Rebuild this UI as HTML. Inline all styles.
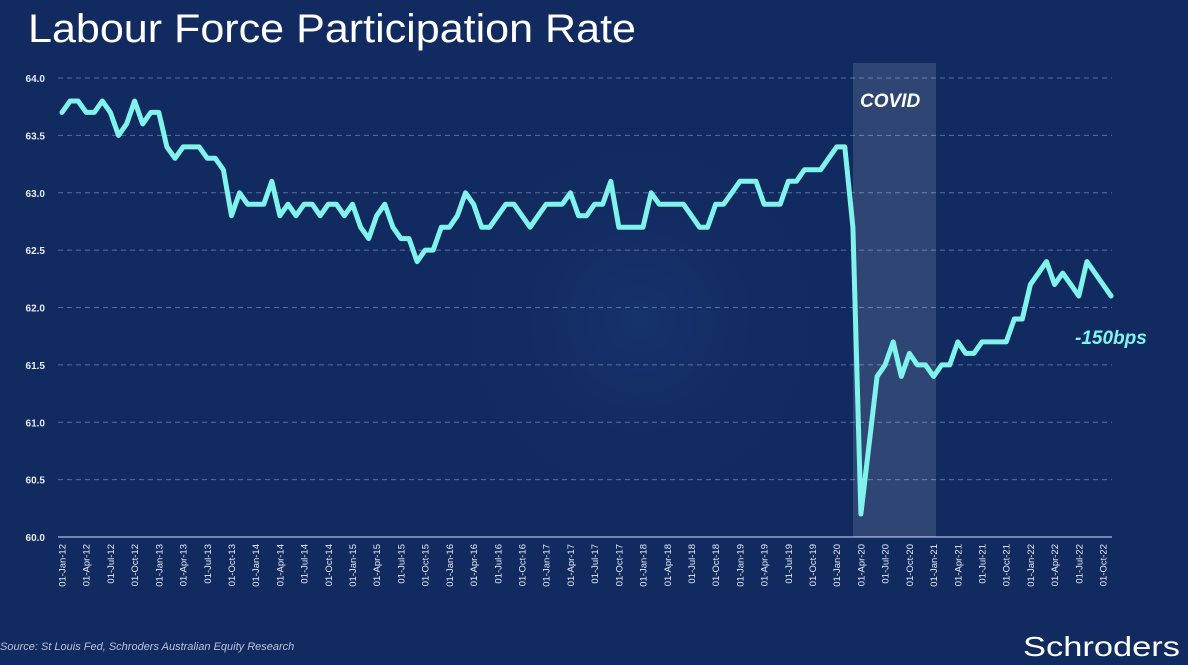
<!DOCTYPE html>
<html><head><meta charset="utf-8"><style>
html,body{margin:0;padding:0;background:#112a5f;}
svg{display:block;font-family:"Liberation Sans",sans-serif;}
</style></head><body>
<svg id="chart" width="1188" height="665" viewBox="0 0 1188 665" xmlns="http://www.w3.org/2000/svg">
<defs><radialGradient id="wm" cx="0.5" cy="0.5" r="0.5"><stop offset="0" stop-color="#1c3a78" stop-opacity="0.55"/><stop offset="1" stop-color="#112a5f" stop-opacity="0"/></radialGradient></defs>
<rect x="0" y="0" width="1188" height="665" fill="#112a5f"/>
<circle cx="640" cy="320" r="230" fill="url(#wm)"/>
<text x="28" y="42" fill="#ffffff" font-size="40" textLength="608" lengthAdjust="spacingAndGlyphs">Labour Force Participation Rate</text>
<g id="grid"></g>
<rect id="covid-band" x="853" y="63" width="83" height="474" fill="#ffffff" fill-opacity="0.13"/>
<text x="860" y="107" fill="#ffffff" font-size="19" font-weight="bold" font-style="italic">COVID</text>
<g id="yticks"></g>
<g id="xticks"></g>
<path id="series" fill="none" stroke="#7ff3ec" stroke-width="5" stroke-linejoin="round" stroke-linecap="round"/>
<text x="1075" y="344" fill="#7ff3ec" font-size="19" font-weight="bold" font-style="italic">-150bps</text>
<text x="0" y="650" fill="#b8c3dc" font-size="11" font-style="italic">Source: St Louis Fed, Schroders Australian Equity Research</text>
<text x="1023" y="656" fill="#ffffff" font-size="28" textLength="157" lengthAdjust="spacingAndGlyphs">Schroders</text>
</svg>
<script>
const values = [63.7,63.8,63.8,63.7,63.7,63.8,63.7,63.5,63.6,63.8,63.6,63.7,
63.7,63.4,63.3,63.4,63.4,63.4,63.3,63.3,63.2,62.8,63.0,62.9,
62.9,62.9,63.1,62.8,62.9,62.8,62.9,62.9,62.8,62.9,62.9,62.8,
62.9,62.7,62.6,62.8,62.9,62.7,62.6,62.6,62.4,62.5,62.5,62.7,
62.7,62.8,63.0,62.9,62.7,62.7,62.8,62.9,62.9,62.8,62.7,62.8,
62.9,62.9,62.9,63.0,62.8,62.8,62.9,62.9,63.1,62.7,62.7,62.7,
62.7,63.0,62.9,62.9,62.9,62.9,62.8,62.7,62.7,62.9,62.9,63.0,
63.1,63.1,63.1,62.9,62.9,62.9,63.1,63.1,63.2,63.2,63.2,63.3,
63.4,63.4,62.7,60.2,60.8,61.4,61.5,61.7,61.4,61.6,61.5,61.5,
61.4,61.5,61.5,61.7,61.6,61.6,61.7,61.7,61.7,61.7,61.9,61.9,
62.2,62.3,62.4,62.2,62.3,62.2,62.1,62.4,62.3,62.2,62.1];
const yTicks = [60.0,60.5,61.0,61.5,62.0,62.5,63.0,63.5,64.0];
const monthNames = ["Jan","Apr","Jul","Oct"];
const startYear = 12, endYear = 22;

const NS = "http://www.w3.org/2000/svg";
const x0 = 62, dx = 8.07, yBase = 537, yPer = 114.75;
function xs(i){ return x0 + dx*i; }
function ys(v){ return yBase - (v-60)*yPer; }

const grid = document.getElementById('grid');
const yt = document.getElementById('yticks');
yTicks.forEach(v=>{
  const l = document.createElementNS(NS,'line');
  l.setAttribute('x1',58); l.setAttribute('x2',1112);
  l.setAttribute('y1',ys(v)); l.setAttribute('y2',ys(v));
  l.setAttribute('stroke', v===60 ? '#8fa3cf' : '#5a6f9e');
  l.setAttribute('stroke-width', v===60 ? 1.5 : 1);
  if(v!==60) l.setAttribute('stroke-dasharray','5 4');
  
  
  grid.appendChild(l);
  const t = document.createElementNS(NS,'text');
  t.setAttribute('x',45); t.setAttribute('y',ys(v)+4);
  t.setAttribute('text-anchor','end'); t.setAttribute('fill','#e6ebf5');
  t.setAttribute('font-size','10'); t.setAttribute('font-weight','bold');
  t.textContent = v.toFixed(1);
  
  
  yt.appendChild(t);
});

const xt = document.getElementById('xticks');
let q = 0;
for(let yr=startYear; yr<=endYear; yr++){
  monthNames.forEach(m=>{
    const x = xs(q*3);
    const t = document.createElementNS(NS,'text');
    t.setAttribute('transform','translate('+(x+3.5)+',544) rotate(-90)');
    t.setAttribute('text-anchor','end'); t.setAttribute('fill','#e6ebf5');
    t.setAttribute('font-size','9.5');
    t.textContent = '01-'+m+'-'+yr;
    
    
    xt.appendChild(t);
    q++;
  });
}

let d = '';
values.forEach((v,i)=>{ d += (i?'L':'M') + xs(i).toFixed(1) + ' ' + ys(v).toFixed(1) + ' '; });
document.getElementById('series').setAttribute('d', d);
</script>
</body></html>
